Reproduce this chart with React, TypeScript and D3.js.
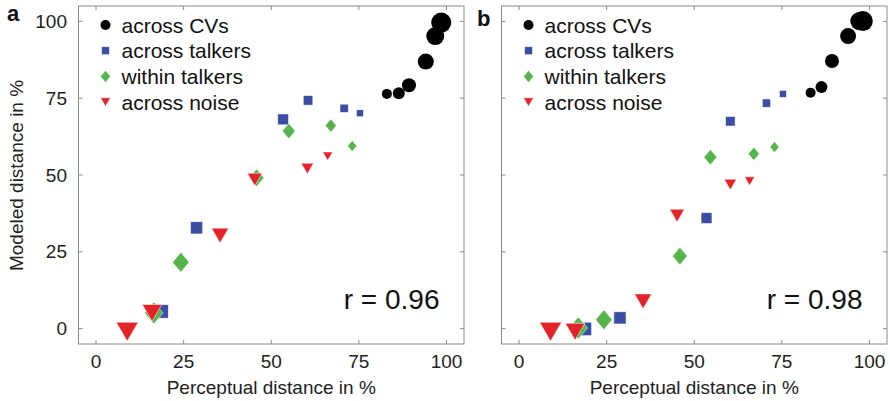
import React from 'react';
import * as d3 from 'd3';

// [perceptual %, modeled %, condition level]
const cvsA = [[83.0, 76.4, 1], [86.4, 76.6, 2], [89.3, 79.2, 3], [94.1, 86.9, 4], [96.8, 95.2, 5], [98.5, 99.6, 6]];
const talkersA = [[18.7, 5.6, 6], [28.7, 32.8, 5], [53.4, 68.1, 4], [60.5, 74.3, 3], [70.8, 71.7, 2], [75.3, 70.1, 1]];
const withinA = [[16.5, 5.1, 6], [24.2, 21.6, 5], [45.8, 49.1, 4], [55.0, 64.3, 3], [67.0, 66.1, 2], [73.1, 59.4, 1]];
const noiseA = [[8.9, -1.0, 6], [16.0, 5.1, 5], [35.4, 30.3, 4], [45.3, 48.5, 3], [60.3, 52.1, 2], [66.1, 56.1, 1]];

const cvsB = [[83.2, 76.8, 1], [86.3, 78.6, 2], [89.3, 87.1, 3], [93.9, 95.2, 4], [97.1, 100.1, 5], [98.1, 100.1, 6]];
const talkersB = [[18.8, -0.1, 6], [28.8, 3.5, 5], [53.5, 36.0, 4], [60.3, 67.5, 3], [70.6, 73.4, 2], [75.3, 76.4, 1]];
const withinB = [[16.9, 0.2, 6], [24.2, 2.9, 5], [45.9, 23.6, 4], [54.6, 55.8, 3], [67.0, 56.9, 2], [72.9, 59.1, 1]];
const noiseB = [[9.0, -1.0, 6], [16.0, -1.0, 5], [35.4, 8.9, 4], [45.1, 36.8, 3], [60.3, 46.9, 2], [65.8, 48.0, 1]];

const ticks = [0, 25, 50, 75, 100];
const legendLabels = ['across CVs', 'across talkers', 'within talkers', 'across noise'];
const panelLetters = ['a', 'b'];
const rValues = ['r = 0.96', 'r = 0.98'];

const font = 'Liberation Sans, Arial, Helvetica, sans-serif';
const colors = ['#000000', '#3b4ea3', '#55b44b', '#e3222a'];

const circleSize = d3.scaleLinear().domain([1, 6]).range([10, 20]);
const squareSize = d3.scaleLinear().domain([1, 6]).range([7, 13.5]);
const diamondSize = d3.scaleLinear().domain([1, 6]).range([11, 22]);
const triSize = d3.scaleLinear().domain([1, 6]).range([10, 22]);

function marker(kind: number, x: number, y: number, s: number, key: any) {
  const stroke = kind === 0 ? 'none' : 'rgba(255,255,255,0.8)';
  if (kind === 0) return <circle key={key} cx={x} cy={y} r={s / 2} fill={colors[0]} />;
  if (kind === 1)
    return <rect key={key} x={x - s / 2} y={y - s / 2} width={s} height={s} fill={colors[1]} stroke={stroke} strokeWidth={0.7} />;
  if (kind === 2) {
    const w = s * 0.42;
    const h = s / 2;
    return (
      <path key={key} d={`M${x},${y - h}L${x + w},${y}L${x},${y + h}L${x - w},${y}Z`} fill={colors[2]} stroke={stroke} strokeWidth={0.7} />
    );
  }
  const hw = s / 2;
  const h = s * 0.86;
  return (
    <path key={key} d={`M${x - hw},${y - h / 2}L${x + hw},${y - h / 2}L${x},${y + h / 2}Z`} fill={colors[3]} stroke={stroke} strokeWidth={0.7} />
  );
}

function Panel({ left, right, idx, series }: any) {
  const top = 6;
  const bottom = 344;
  const x = d3.scaleLinear().domain([-5, 105]).range([left, right]);
  const y = d3.scaleLinear().domain([-5, 105]).range([bottom, top]);
  const sizers = [circleSize, squareSize, diamondSize, triSize];
  const axisColor = '#8a8a8a';
  const tl = 4;
  return (
    <g>
      <rect x={left} y={top} width={right - left} height={bottom - top} fill="none" stroke={axisColor} strokeWidth={1} />
      {ticks.map((t) => (
        <g key={t} stroke={axisColor} strokeWidth={1}>
          <line x1={x(t)} x2={x(t)} y1={bottom} y2={bottom - tl} />
          <line x1={x(t)} x2={x(t)} y1={top} y2={top + tl} />
          <line x1={left} x2={left + tl} y1={y(t)} y2={y(t)} />
          <line x1={right} x2={right - tl} y1={y(t)} y2={y(t)} />
        </g>
      ))}
      {ticks.map((t) => (
        <text key={'xl' + t} x={x(t)} y={368} textAnchor="middle" fontSize={19} fontFamily={font} fill="#222">
          {t}
        </text>
      ))}
      {idx === 0 &&
        ticks.map((t) => (
          <text key={'yl' + t} x={67} y={y(t)} dy="0.35em" textAnchor="end" fontSize={19} fontFamily={font} fill="#222">
            {t}
          </text>
        ))}
      <text x={x(50)} y={394} textAnchor="middle" fontSize={19} fontFamily={font} fill="#222">
        Perceptual distance in %
      </text>
      {series.map((pts: number[][], k: number) => pts.map((p, i) => marker(k, x(p[0]), y(p[1]), sizers[k](p[2]), k + '-' + i)))}
      {legendLabels.map((lab, k) => (
        <g key={lab}>
          {marker(k, left + 27, 25 + k * 25.7, [10, 8, 12, 10][k], 'lg' + k)}
          <text x={left + 43} y={25 + k * 25.7 + 7.5} fontSize={21} fontFamily={font} fill="#111">
            {lab}
          </text>
        </g>
      ))}
      <text x={x(98)} y={y(6.5)} textAnchor="end" fontSize={28} fontFamily={font} fill="#111">
        {rValues[idx]}
      </text>
    </g>
  );
}

export default function App() {
  return (
    <svg width={890} height={401} style={{ position: 'absolute', left: 0, top: 0, background: '#fff' }}>
      <rect width={890} height={401} fill="#fff" />
      <Panel left={78.5} right={464} idx={0} series={[cvsA, talkersA, withinA, noiseA]} />
      <Panel left={501.5} right={887} idx={1} series={[cvsB, talkersB, withinB, noiseB]} />
      <text x={7} y={21} fontSize={22} fontWeight="bold" fontFamily={font} fill="#111">
        {panelLetters[0]}
      </text>
      <text x={477} y={26} fontSize={22} fontWeight="bold" fontFamily={font} fill="#111">
        {panelLetters[1]}
      </text>
      <text transform="translate(23,175.5) rotate(-90)" textAnchor="middle" fontSize={19} fontFamily={font} fill="#222">
        Modeled distance in %
      </text>
    </svg>
  );
}
